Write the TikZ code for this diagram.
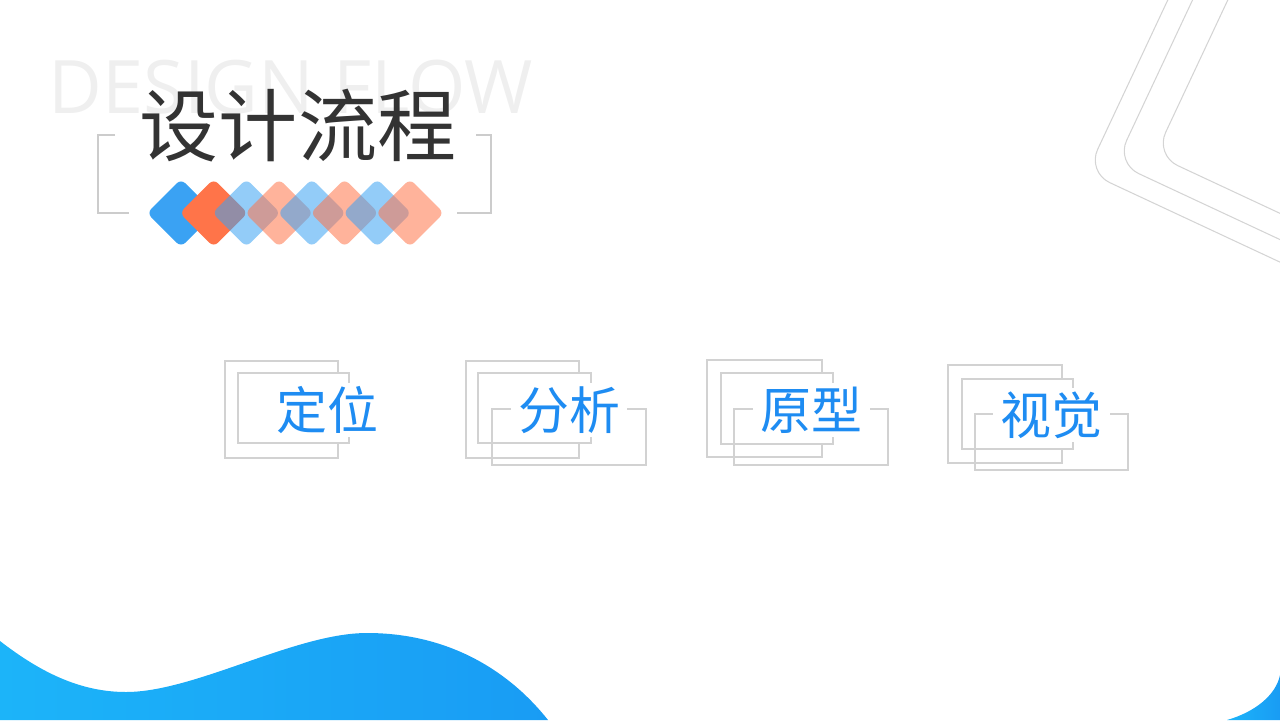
\documentclass[tikz,border=0pt]{standalone}
\usepackage{fontspec}
\newfontfamily\cjk{Noto Sans CJK SC}
\newfontfamily\ensans{Open Sans}
\definecolor{diablue}{HTML}{3AA2F3}
\definecolor{diaorange}{HTML}{FF7449}
\definecolor{wordblue}{HTML}{1E8CF2}
\definecolor{framegray}{HTML}{D2D2D2}
\definecolor{bracketgray}{HTML}{CCCCCC}
\definecolor{decogray}{HTML}{D4D4D4}
\definecolor{wavelight}{HTML}{1CB4F9}
\definecolor{wavedark}{HTML}{199CF4}
\definecolor{titlegray}{HTML}{333333}
\definecolor{ghostgray}{HTML}{EFEFEF}
\tikzset{
	frame/.style={draw=framegray, line width=0.8pt},
	framefill/.style={frame, fill=white},
	steptext/.style={font=\cjk\fontsize{29}{29}\selectfont, text=wordblue, fill=white,
		minimum width=2.34cm, minimum height=1.08cm, inner sep=0pt},
	bracket/.style={draw=bracketgray, line width=1.4pt},
	deco/.style={draw=decogray, line width=0.6pt, rounded corners=5mm},
	wave/.style={left color=wavelight, right color=wavedark}
}
\begin{document}
\begin{tikzpicture}[x=0.02cm, y=-0.02cm]
	\useasboundingbox (0,0) rectangle (1280,720);
	\clip (0,0) rectangle (1280,720);
	% background word and title
	\node[font=\ensans\fontsize{42}{42}\selectfont, text=ghostgray, anchor=base, inner sep=0pt] (ghost) at (291,113) {DESIGN FLOW};
	\node[font=\cjk\fontsize{45}{45}\selectfont, text=titlegray, anchor=base, inner sep=0pt] (title) at (298,155) {设计流程};
	\draw[bracket] (115,135) -- (98,135) -- (98,213) -- (129,213);
	\draw[bracket] (476,135) -- (491,135) -- (491,213) -- (457,213);
	% diamonds
	\foreach \i/\c/\o in {0/diablue/1, 1/diaorange/1, 2/diablue/0.55, 3/diaorange/0.55, 4/diablue/0.55, 5/diaorange/0.55, 6/diablue/0.55, 7/diaorange/0.55}
		\fill[\c, fill opacity=\o, rounded corners=1.2mm] ({181+32.7*\i-34},213) -- ({181+32.7*\i},179) -- ({181+32.7*\i+34},213) -- ({181+32.7*\i},247) -- cycle;
	% corner lines
	\draw[deco] (1172,-9) -- (1087,172) -- (1314,278);
	\draw[deco] (1201,-18) -- (1116,163) -- (1343,269);
	\draw[deco] (1240,-26) -- (1155,155) -- (1382,261);
	% steps
	\draw[frame] (225,361) rectangle (338,458);
	\draw[framefill] (238,373) rectangle (349,443);
	\node[steptext] (dingwei) at (327,410) {定位};
	\draw[frame] (466,361) rectangle (579,458);
	\draw[framefill] (478,373) rectangle (591,443);
	\draw[frame] (492,409) rectangle (646,465);
	\node[steptext] (fenxi) at (569,410) {分析};
	\draw[frame] (707,360) rectangle (822,457);
	\draw[framefill] (721,373) rectangle (833,444);
	\draw[frame] (734,409) rectangle (888,465);
	\node[steptext] (yuanxing) at (811,410) {原型};
	\draw[frame] (948,365) rectangle (1062,463);
	\draw[framefill] (962,379) rectangle (1073,449);
	\draw[frame] (975,414) rectangle (1128,470);
	\node[steptext] (shijue) at (1051,415) {视觉};
	% waves
	\shade[wave] (0,641) .. controls (40,672) and (80,692) .. (126,692) .. controls (195,692) and (295,633) .. (367,633) .. controls (450,633) and (510,672) .. (548,720) -- (0,720) -- cycle;
	\shade[wave] (1227,720) .. controls (1255,712) and (1276,695) .. (1280,675) -- (1280,720) -- cycle;
\end{tikzpicture}
\end{document}
